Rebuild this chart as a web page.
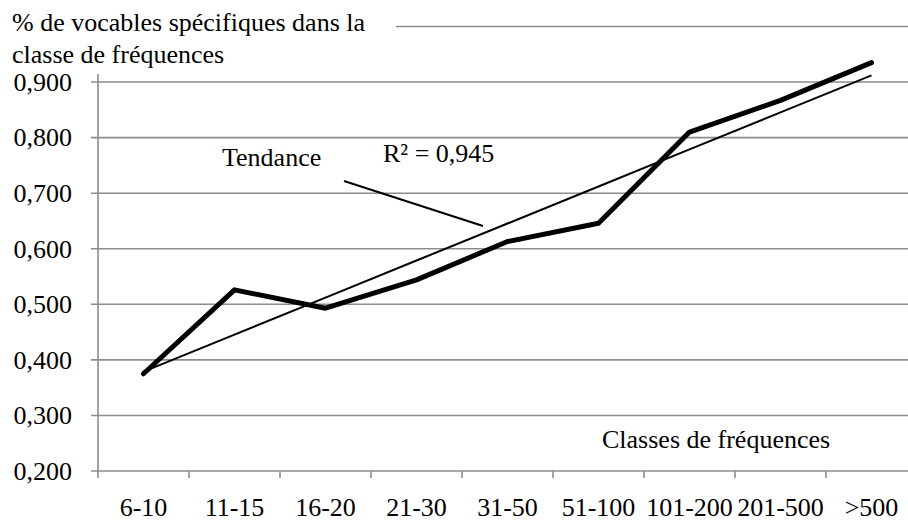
<!DOCTYPE html>
<html>
<head>
<meta charset="utf-8">
<script src="https://cdn.jsdelivr.net/npm/d3@7"></script>
<style>
  body { margin: 0; background: #fff; }
  text { font-family: "Liberation Serif", "Times New Roman", serif; fill: #000; }
</style>
</head>
<body>
<div id="chart"></div>
<script>
// values
let classes = ["6-10", "11-15", "16-20", "21-30", "31-50", "51-100", "101-200", "201-500", ">500"];
let share = [0.375, 0.526, 0.493, 0.544, 0.613, 0.646, 0.810, 0.867, 0.935];
let yTicks = [0.2, 0.3, 0.4, 0.5, 0.6, 0.7, 0.8, 0.9, 1.0];
let titleLines = ["% de vocables spécifiques dans la", "classe de fréquences"];
let r2Label = "R² = 0,945";

let width = 908;
let height = 521;
let fontSize = 26;
let gridColor = "#8c8c8c";

let svg = d3
  .select("#chart")
  .append("svg")
  .attr("width", width)
  .attr("height", height);

// plot area runs past the right edge, like the cropped original
let xScale = d3
  .scaleBand()
  .domain(classes)
  .range([98, 917])
  .padding(0);

let yScale = d3
  .scaleLinear()
  .domain([0.2, 1.0])
  .range([471, 26.5]);

let fmt = function(v) {
  return d3.format(".3f")(v).replace(".", ",");
};

// gridlines
svg
  .append("g")
  .selectAll("line")
  .data(yTicks)
  .enter()
  .append("line")
  .attr("x1", 91)
  .attr("x2", 917)
  .attr("y1", function(d) { return yScale(d); })
  .attr("y2", function(d) { return yScale(d); })
  .attr("stroke", gridColor)
  .attr("stroke-width", 1.6);

// y labels
svg
  .append("g")
  .selectAll("text")
  .data(yTicks)
  .enter()
  .append("text")
  .attr("x", 72)
  .attr("y", function(d) { return yScale(d); })
  .attr("dy", "0.34em")
  .attr("text-anchor", "end")
  .attr("font-size", fontSize)
  .text(function(d) { return fmt(d); });

// y axis line
svg
  .append("line")
  .attr("x1", 98)
  .attr("x2", 98)
  .attr("y1", yScale(1.0))
  .attr("y2", yScale(0.2) + 7)
  .attr("stroke", gridColor)
  .attr("stroke-width", 1.6);

// x ticks at the band edges
let edges = classes.map(function(c) { return xScale(c); });
svg
  .append("g")
  .selectAll("line")
  .data(edges.slice(1))
  .enter()
  .append("line")
  .attr("x1", function(d) { return d; })
  .attr("x2", function(d) { return d; })
  .attr("y1", yScale(0.2))
  .attr("y2", yScale(0.2) + 7)
  .attr("stroke", gridColor)
  .attr("stroke-width", 1.6);

// x labels
svg
  .append("g")
  .selectAll("text")
  .data(classes)
  .enter()
  .append("text")
  .attr("x", function(d) { return xScale(d) + xScale.bandwidth() / 2; })
  .attr("y", 516)
  .attr("text-anchor", "middle")
  .attr("font-size", fontSize)
  .text(function(d) { return d; });

// linear trend (least squares on the class index)
let n = share.length;
let meanX = (n + 1) / 2;
let meanY = d3.mean(share);
let sxy = d3.sum(share, function(d, i) { return (i + 1 - meanX) * (d - meanY); });
let sxx = d3.sum(share, function(d, i) { return (i + 1 - meanX) * (i + 1 - meanX); });
let slope = sxy / sxx;
let trend = share.map(function(d, i) { return meanY + slope * (i + 1 - meanX); });

let lineGen = d3
  .line()
  .x(function(d, i) { return xScale(classes[i]) + xScale.bandwidth() / 2; })
  .y(function(d) { return yScale(d); });

svg
  .append("path")
  .datum(trend)
  .attr("d", lineGen)
  .attr("fill", "none")
  .attr("stroke", "#000")
  .attr("stroke-width", 2);

svg
  .append("path")
  .datum(share)
  .attr("d", lineGen)
  .attr("fill", "none")
  .attr("stroke", "#000")
  .attr("stroke-width", 5)
  .attr("stroke-linejoin", "round")
  .attr("stroke-linecap", "round");

// title box hides the top gridline on the left
svg
  .append("rect")
  .attr("x", 0)
  .attr("y", 0)
  .attr("width", 396)
  .attr("height", 74)
  .attr("fill", "#fff");

svg
  .append("g")
  .selectAll("text")
  .data(titleLines)
  .enter()
  .append("text")
  .attr("x", 12)
  .attr("y", function(d, i) { return 31 + i * 32; })
  .attr("font-size", fontSize)
  .text(function(d) { return d; });

svg
  .append("text")
  .attr("x", 602)
  .attr("y", 448)
  .attr("font-size", fontSize)
  .text("Classes de fréquences");

// trend annotation
svg
  .append("text")
  .attr("x", 222)
  .attr("y", 166)
  .attr("font-size", fontSize)
  .text("Tendance");

svg
  .append("text")
  .attr("x", 383)
  .attr("y", 162)
  .attr("font-size", fontSize)
  .text(r2Label);

svg
  .append("line")
  .attr("x1", 344)
  .attr("y1", 181)
  .attr("x2", 483)
  .attr("y2", 226)
  .attr("stroke", "#000")
  .attr("stroke-width", 2);
</script>
</body>
</html>
